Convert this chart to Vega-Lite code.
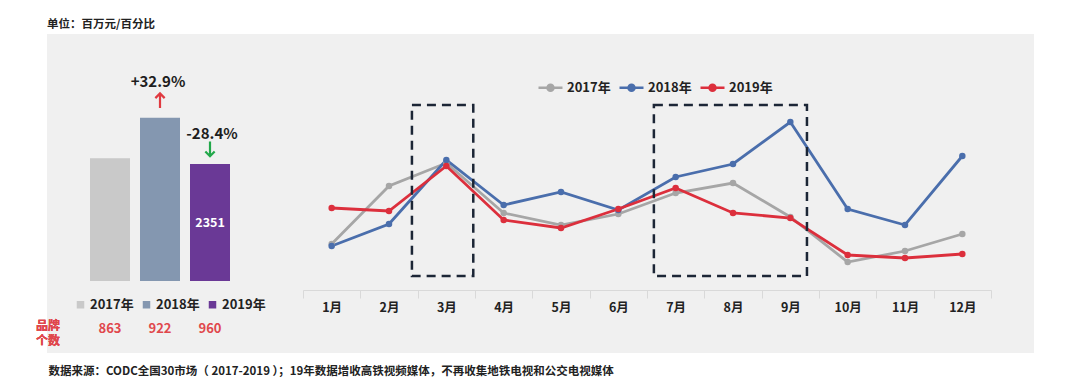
{
  "$schema": "https://vega.github.io/schema/vega-lite/v6.json",
  "width": 987,
  "height": 319,
  "padding": {"left": 35, "top": 18, "right": 0, "bottom": 0},
  "background": "white",
  "config": {
    "font": "Noto Sans CJK SC",
    "view": {"fill": "#f0f0f0", "stroke": null}
  },
  "title": {"text": "单位：百万元/百分比", "anchor": "start", "frame": "group", "fontSize": 11.5, "fontWeight": "bold", "color": "#222222", "offset": 4},
  "datasets": {
    "bars": [
      {"year": "2017年", "value": 2470, "count": 863, "change": null},
      {"year": "2018年", "value": 3283, "count": 922, "change": "+32.9%"},
      {"year": "2019年", "value": 2351, "count": 960, "change": "-28.4%"}
    ],
    "lines": [
      {"month": "1月", "year": "2017年", "value": 46},
      {"month": "2月", "year": "2017年", "value": 104},
      {"month": "3月", "year": "2017年", "value": 127},
      {"month": "4月", "year": "2017年", "value": 77},
      {"month": "5月", "year": "2017年", "value": 65},
      {"month": "6月", "year": "2017年", "value": 76},
      {"month": "7月", "year": "2017年", "value": 97},
      {"month": "8月", "year": "2017年", "value": 107},
      {"month": "9月", "year": "2017年", "value": 73},
      {"month": "10月", "year": "2017年", "value": 28},
      {"month": "11月", "year": "2017年", "value": 39},
      {"month": "12月", "year": "2017年", "value": 56},
      {"month": "1月", "year": "2018年", "value": 44},
      {"month": "2月", "year": "2018年", "value": 66},
      {"month": "3月", "year": "2018年", "value": 130},
      {"month": "4月", "year": "2018年", "value": 85},
      {"month": "5月", "year": "2018年", "value": 98},
      {"month": "6月", "year": "2018年", "value": 80},
      {"month": "7月", "year": "2018年", "value": 113},
      {"month": "8月", "year": "2018年", "value": 126},
      {"month": "9月", "year": "2018年", "value": 168},
      {"month": "10月", "year": "2018年", "value": 81},
      {"month": "11月", "year": "2018年", "value": 65},
      {"month": "12月", "year": "2018年", "value": 134},
      {"month": "1月", "year": "2019年", "value": 82},
      {"month": "2月", "year": "2019年", "value": 79},
      {"month": "3月", "year": "2019年", "value": 124},
      {"month": "4月", "year": "2019年", "value": 70},
      {"month": "5月", "year": "2019年", "value": 62},
      {"month": "6月", "year": "2019年", "value": 81},
      {"month": "7月", "year": "2019年", "value": 102},
      {"month": "8月", "year": "2019年", "value": 77},
      {"month": "9月", "year": "2019年", "value": 72},
      {"month": "10月", "year": "2019年", "value": 35},
      {"month": "11月", "year": "2019年", "value": 32},
      {"month": "12月", "year": "2019年", "value": 36}
    ],
    "boxes": [
      {"from": 1.9, "to": 2.97, "top": 185, "bottom": 14},
      {"from": 6.12, "to": 8.79, "top": 185, "bottom": 14}
    ]
  },
  "layer": [
    {
      "data": {"name": "bars"},
      "encoding": {
        "x": {"field": "year", "type": "nominal", "scale": {"range": [38, 188], "paddingInner": 0.2, "paddingOuter": 0.1}, "axis": null},
        "y": {"field": "value", "type": "quantitative", "scale": {"domain": [-1447, 4965], "nice": false, "zero": false}, "axis": null}
      },
      "layer": [
        {
          "mark": {"type": "bar"},
          "encoding": {
            "color": {
              "field": "year", "type": "nominal",
              "scale": {"domain": ["2017年", "2018年", "2019年"], "range": ["#c9c9c9", "#8497b0", "#6a3996"]},
              "legend": {"orient": "none", "legendX": 27, "legendY": 264, "direction": "horizontal", "title": null, "symbolType": "square", "symbolSize": 56, "symbolStrokeWidth": 0, "labelFontSize": 13, "labelFontWeight": "bold", "labelColor": "#222222", "labelOffset": 3, "columnPadding": 6, "padding": 0}
            }
          }
        },
        {
          "mark": {"type": "text", "fontSize": 13, "fontWeight": "bold", "color": "#e0474c", "baseline": "middle"},
          "encoding": {"y": {"datum": -965}, "text": {"field": "count", "type": "quantitative"}}
        },
        {
          "mark": {"type": "text", "text": ["品牌", "个数"], "fontSize": 12, "fontWeight": "bold", "color": "#e0474c", "baseline": "middle", "lineHeight": 15, "dx": -62},
          "encoding": {"x": {"datum": "2017年"}, "y": {"datum": -895}}
        },
        {
          "transform": [{"filter": "datum.year == '2019年'"}],
          "mark": {"type": "text", "fontSize": 12.5, "fontWeight": "bold", "color": "white", "baseline": "middle"},
          "encoding": {"y": {"datum": 1166}, "text": {"field": "value", "type": "quantitative"}}
        },
        {
          "transform": [{"filter": "datum.year == '2018年'"}],
          "mark": {"type": "text", "fontSize": 15, "fontWeight": "bold", "color": "#1e1e1e", "baseline": "middle", "dy": -36, "dx": -2},
          "encoding": {"text": {"field": "change"}}
        },
        {
          "transform": [{"filter": "datum.year == '2019年'"}],
          "mark": {"type": "text", "fontSize": 15, "fontWeight": "bold", "color": "#1e1e1e", "baseline": "middle", "dy": -30, "dx": 2},
          "encoding": {"text": {"field": "change"}}
        },
        {
          "transform": [{"filter": "datum.year == '2018年'"}],
          "mark": {"type": "point", "shape": "M0,1L0,-0.9M-0.62,-0.32L0,-0.95L0.62,-0.32", "filled": false, "stroke": "#e03a40", "strokeWidth": 2.2, "size": 225, "opacity": 1},
          "encoding": {"y": {"datum": 3628}}
        },
        {
          "transform": [{"filter": "datum.year == '2019年'"}],
          "mark": {"type": "point", "shape": "M0,-1L0,0.9M-0.62,0.32L0,0.95L0.62,0.32", "filled": false, "stroke": "#22a84a", "strokeWidth": 2.2, "size": 225, "opacity": 1},
          "encoding": {"y": {"datum": 2653}}
        }
      ]
    },
    {
      "data": {"name": "lines"},
      "encoding": {
        "x": {
          "field": "month", "type": "nominal",
          "sort": ["1月", "2月", "3月", "4月", "5月", "6月", "7月", "8月", "9月", "10月", "11月", "12月"],
          "scale": {"range": [256, 944], "paddingInner": 0, "paddingOuter": 0},
          "axis": {
            "orient": "bottom", "offset": -63,
            "title": "数据来源：CODC全国30市场（ 2017-2019 ）；19年数据增收高铁视频媒体，不再收集地铁电视和公交电视媒体",
            "titleX": 1, "titleY": 81, "titleAlign": "left", "titleBaseline": "middle", "titleAngle": 0,
            "titleFontSize": 11.5, "titleFontWeight": "bold", "titleColor": "#222222",
            "labelFontSize": 12.5, "labelFontWeight": "bold", "labelColor": "#222222", "labelAngle": 0, "labelPadding": 3,
            "tickSize": 8, "tickColor": "#d9d9d9", "tickBand": "extent", "domainColor": "#d9d9d9", "grid": false
          }
        },
        "y": {"field": "value", "type": "quantitative", "scale": {"domain": [-63, 256], "nice": false, "zero": false}, "axis": null},
        "color": {
          "field": "year", "type": "nominal",
          "scale": {"domain": ["2017年", "2018年", "2019年"], "range": ["#a6a6a6", "#4a6eac", "#dc2f3c"]},
          "legend": {
            "orient": "none", "legendX": 490, "legendY": 40, "direction": "horizontal", "title": null,
            "symbolType": "M-1,0H1M-0.25,0A0.25,0.25,0,1,0,0.25,0A0.25,0.25,0,1,0,-0.25,0Z",
            "symbolSize": 576, "symbolStrokeWidth": 2.5,
            "labelFontSize": 13, "labelFontWeight": "bold", "labelColor": "#222222", "labelOffset": 3, "columnPadding": 3, "padding": 0,
            "encode": {"symbols": {"update": {
              "stroke": {"signal": "datum.value == '2017年' ? '#a6a6a6' : datum.value == '2018年' ? '#4a6eac' : '#dc2f3c'"},
              "fill": {"signal": "datum.value == '2017年' ? '#a6a6a6' : datum.value == '2018年' ? '#4a6eac' : '#dc2f3c'"}
            }}}
          }
        }
      },
      "layer": [
        {"mark": {"type": "line", "strokeWidth": 2.8}},
        {"mark": {"type": "point", "filled": true, "size": 42, "opacity": 1}}
      ]
    },
    {
      "data": {"name": "boxes"},
      "mark": {"type": "rect", "fill": null, "fillOpacity": 0, "stroke": "#1c2636", "strokeWidth": 2.5, "strokeDash": [9, 6]},
      "encoding": {
        "x": {"field": "from", "type": "quantitative", "scale": {"domain": [0, 12], "range": [256, 944], "nice": false, "zero": false}, "axis": null},
        "x2": {"field": "to"},
        "y": {"field": "top", "type": "quantitative", "scale": {"domain": [-63, 256], "nice": false, "zero": false}, "axis": null},
        "y2": {"field": "bottom"}
      }
    }
  ],
  "resolve": {"scale": {"x": "independent", "y": "independent", "color": "independent"}}
}
